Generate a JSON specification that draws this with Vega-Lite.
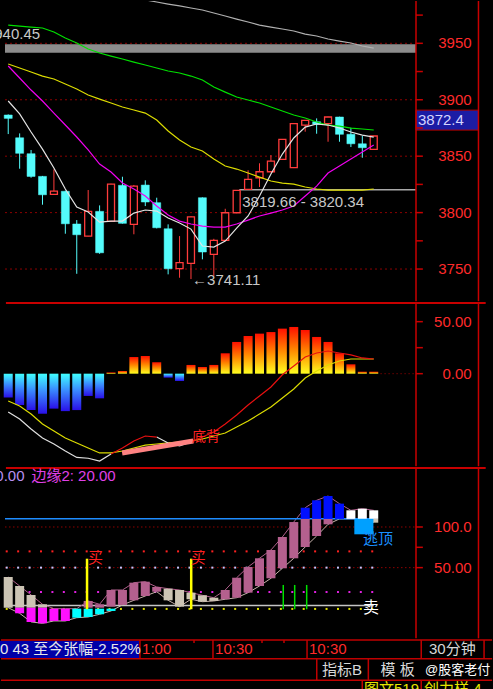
{
"$schema": "https://vega.github.io/schema/vega-lite/v6.json",
"background": "#000000",
"padding": 0,
"spacing": 0,
"bounds": "flush",
"config": {"view": {"stroke": null}, "text": {"font": "Liberation Sans, Noto Sans CJK SC", "fontSize": 15}},
"datasets": {
"cd": [
{"i":0,"o":3886.5,"h":3887,"l":3869.6,"c":3883.5,"d":"d","m5":3898.9,"m10":3929.9,"m20":3931.7,"m60":3966.2,"m120":null,"mh":-23,"dea":-26.3,"kt":38.5,"kl":0.7},
{"i":1,"o":3866.3,"h":3870.2,"l":3838.9,"c":3852.5,"d":"d","m5":3887.4,"m10":3919.3,"m20":3928.1,"m60":3965.3,"m120":null,"mh":-30,"dea":-31.1,"kt":27.4,"kl":-6.2},
{"i":2,"o":3852.2,"h":3855.5,"l":3830.9,"c":3832.1,"d":"d","m5":3871.4,"m10":3908.6,"m20":3924.6,"m60":3964.4,"m120":null,"mh":-35,"dea":-38.8,"kt":16.4,"kl":-16.8},
{"i":3,"o":3832.1,"h":3832.5,"l":3807.0,"c":3815.8,"d":"d","m5":3856.3,"m10":3898.9,"m20":3921.0,"m60":3963.6,"m120":null,"mh":-38.5,"dea":-48.3,"kt":4.9,"kl":-18.5},
{"i":4,"o":3816.2,"h":3838.3,"l":3816.0,"c":3819.1,"d":"u","m5":3839.5,"m10":3888.2,"m20":3918.4,"m60":3960.0,"m120":null,"mh":-33.6,"dea":-55.1,"kt":-0.5,"kl":-15.6},
{"i":5,"o":3818.9,"h":3819.5,"l":3781.3,"c":3790.1,"d":"d","m5":3820.9,"m10":3877.6,"m20":3913.9,"m60":3954.7,"m120":null,"mh":-36,"dea":-61.8,"kt":-0.5,"kl":-15.6},
{"i":6,"o":3789.9,"h":3793.4,"l":3745.8,"c":3780.4,"d":"d","m5":3804.9,"m10":3867.0,"m20":3909.5,"m60":3950.3,"m120":null,"mh":-35,"dea":-66.6,"kt":-0.5,"kl":-11.6},
{"i":7,"o":3779.2,"h":3820.0,"l":3779.0,"c":3801.1,"d":"u","m5":3800.5,"m10":3855.5,"m20":3904.2,"m60":3945.0,"m120":null,"mh":-21.4,"dea":-71.4,"kt":9.0,"kl":-10.7},
{"i":8,"o":3801.1,"h":3806.4,"l":3763.5,"c":3764.4,"d":"d","m5":3791.6,"m10":3843.0,"m20":3900.6,"m60":3941.4,"m120":null,"mh":-23.7,"dea":-76.2,"kt":4.9,"kl":-7.4},
{"i":9,"o":3792.3,"h":3825.6,"l":3792.0,"c":3825.3,"d":"u","m5":3792.5,"m10":3836.0,"m20":3897.1,"m60":3938.7,"m120":null,"mh":1.2,"dea":-76.2,"kt":22.5,"kl":-3.3},
{"i":10,"o":3824.2,"h":3831.8,"l":3790.3,"c":3790.5,"d":"d","m5":3792.5,"m10":3826.2,"m20":3893.6,"m60":3936.1,"m120":null,"mh":2.6,"dea":-74.3,"kt":22.5,"kl":4.1},
{"i":11,"o":3789.6,"h":3824.5,"l":3780.8,"c":3823.5,"d":"u","m5":3799.6,"m10":3820.9,"m20":3890.9,"m60":3933.4,"m120":null,"mh":16,"dea":-71.4,"kt":31.5,"kl":9.8},
{"i":12,"o":3824.4,"h":3828.6,"l":3805.8,"c":3809.4,"d":"d","m5":3802.3,"m10":3814.7,"m20":3888.2,"m60":3930.8,"m120":3988.5,"mh":17,"dea":-68.6,"kt":32.7,"kl":15.1},
{"i":13,"o":3808.8,"h":3813.2,"l":3786.0,"c":3786.6,"d":"d","m5":3801.4,"m10":3805.8,"m20":3882.0,"m60":3928.1,"m120":3986.6,"mh":11,"dea":-67.6,"kt":26.2,"kl":20.4},
{"i":14,"o":3785.7,"h":3789.6,"l":3745.3,"c":3750.3,"d":"d","m5":3795.2,"m10":3797.9,"m20":3872.3,"m60":3925.5,"m120":3984.8,"mh":-3.8,"dea":-66.6,"kt":24.1,"kl":9.8},
{"i":15,"o":3750.3,"h":3779.2,"l":3742.3,"c":3755.6,"d":"u","m5":3790.8,"m10":3792.5,"m20":3864.3,"m60":3923.7,"m120":3983.1,"mh":-7,"dea":-65.7,"kt":22.5,"kl":2.0},
{"i":16,"o":3755.1,"h":3796.8,"l":3741.11,"c":3796.3,"d":"u","m5":3785.4,"m10":3789.9,"m20":3858.1,"m60":3921.0,"m120":3981.3,"mh":8.4,"dea":-64.7,"kt":19.2,"kl":11.1},
{"i":17,"o":3813.2,"h":3813.5,"l":3758.6,"c":3765.1,"d":"d","m5":3770.4,"m10":3788.1,"m20":3854.6,"m60":3917.5,"m120":3979.5,"mh":6.4,"dea":-62.8,"kt":16.0,"kl":8.1},
{"i":18,"o":3763.0,"h":3776.8,"l":3743.8,"c":3775.4,"d":"u","m5":3769.5,"m10":3787.2,"m20":3847.5,"m60":3911.3,"m120":3976.9,"mh":8.4,"dea":-59.9,"kt":13.0,"kl":9.0},
{"i":19,"o":3775.4,"h":3803.4,"l":3775.0,"c":3799.9,"d":"u","m5":3774.8,"m10":3787.2,"m20":3841.3,"m60":3906.8,"m120":3974.2,"mh":19.6,"dea":-57,"kt":22.5,"kl":11.1},
{"i":20,"o":3799.9,"h":3820.0,"l":3799.5,"c":3819.7,"d":"u","m5":3786.3,"m10":3789.9,"m20":3838.6,"m60":3902.4,"m120":3971.5,"mh":30.5,"dea":-51.2,"kt":37.6,"kl":13.0},
{"i":21,"o":3820.6,"h":3837.5,"l":3820.3,"c":3829.5,"d":"u","m5":3797.0,"m10":3793.4,"m20":3835.1,"m60":3899.8,"m120":3968.9,"mh":36.2,"dea":-45.5,"kt":50.8,"kl":19.2},
{"i":22,"o":3830.9,"h":3843.7,"l":3822.7,"c":3836.2,"d":"u","m5":3814.7,"m10":3797.0,"m20":3831.5,"m60":3897.1,"m120":3966.2,"mh":38.5,"dea":-38.8,"kt":61.5,"kl":27.4},
{"i":23,"o":3836.2,"h":3851.0,"l":3836.0,"c":3845.7,"d":"u","m5":3834.2,"m10":3799.6,"m20":3828.0,"m60":3893.6,"m120":3964.4,"mh":40,"dea":-32,"kt":71.7,"kl":36.9},
{"i":24,"o":3847.2,"h":3865.2,"l":3847.0,"c":3864.9,"d":"u","m5":3851.9,"m10":3802.3,"m20":3826.2,"m60":3890.0,"m120":3962.7,"mh":43.3,"dea":-23.4,"kt":87.7,"kl":49.2},
{"i":25,"o":3839.8,"h":3879.0,"l":3839.5,"c":3878.8,"d":"u","m5":3866.1,"m10":3805.8,"m20":3825.3,"m60":3886.5,"m120":3960.9,"mh":44.9,"dea":-14.7,"kt":106.1,"kl":61.5},
{"i":26,"o":3877.6,"h":3882.0,"l":3871.7,"c":3881.8,"d":"u","m5":3875.8,"m10":3814.7,"m20":3822.7,"m60":3883.8,"m120":3958.2,"mh":42,"dea":-4.1,"kt":123.7,"kl":75.4},
{"i":27,"o":3880.5,"h":3883.5,"l":3869.9,"c":3878.2,"d":"d","m5":3878.5,"m10":3823.5,"m20":3820.9,"m60":3880.3,"m120":3956.5,"mh":35.3,"dea":2.6,"kt":132.8,"kl":88.9},
{"i":28,"o":3878.8,"h":3885.0,"l":3862.8,"c":3884.7,"d":"u","m5":3877.6,"m10":3835.1,"m20":3820.0,"m60":3877.6,"m120":3953.8,"mh":30.5,"dea":8.4,"kt":138.1,"kl":103.3},
{"i":29,"o":3884.7,"h":3885.0,"l":3862.8,"c":3869.4,"d":"d","m5":3875.0,"m10":3841.3,"m20":3820.0,"m60":3876.7,"m120":3952.0,"mh":19.6,"dea":12.2,"kt":128.7,"kl":110},
{"i":30,"o":3869.4,"h":3875.2,"l":3858.1,"c":3861.0,"d":"d","m5":3871.4,"m10":3847.5,"m20":3820.0,"m60":3874.9,"m120":3950.3,"mh":9,"dea":14.1,"kt":120.5,"kl":110},
{"i":31,"o":3861.0,"h":3867.9,"l":3848.6,"c":3857.5,"d":"d","m5":3868.7,"m10":3853.7,"m20":3820.0,"m60":3874.1,"m120":3947.6,"mh":1.9,"dea":14.1,"kt":122.5,"kl":110},
{"i":32,"o":3856.1,"h":3868.0,"l":3856.0,"c":3867.9,"d":"u","m5":3866.9,"m10":3859.9,"m20":3820.9,"m60":3873.2,"m120":3945.8,"mh":1.9,"dea":14.1,"kt":120.5,"kl":105.3}
],
"dif": [
{"i":0,"v":-36.8,"s":"w1"},{"i":1,"v":-43.6,"s":"w1"},{"i":2,"v":-53.2,"s":"w1"},{"i":3,"v":-61.8,"s":"w1"},{"i":4,"v":-67.6,"s":"w1"},{"i":5,"v":-74.3,"s":"w1"},{"i":6,"v":-80.5,"s":"w1"},{"i":7,"v":-81.3,"s":"w1"},{"i":8,"v":-84,"s":"w1"},{"i":9,"v":-77.2,"s":"w1"},
{"i":9,"v":-77.2,"s":"r1"},{"i":10,"v":-71.4,"s":"r1"},{"i":11,"v":-64.7,"s":"r1"},{"i":12,"v":-59.9,"s":"r1"},{"i":13,"v":-60.9,"s":"r1"},
{"i":13,"v":-60.9,"s":"w2"},{"i":14,"v":-66.6,"s":"w2"},{"i":15,"v":-69.5,"s":"w2"},{"i":16,"v":-65.7,"s":"w2"},
{"i":16,"v":-65.7,"s":"r2"},{"i":17,"v":-60.9,"s":"r2"},{"i":18,"v":-56.1,"s":"r2"},{"i":19,"v":-48.4,"s":"r2"},{"i":20,"v":-39.7,"s":"r2"},{"i":21,"v":-30.1,"s":"r2"},{"i":22,"v":-21.4,"s":"r2"},{"i":23,"v":-12.8,"s":"r2"},{"i":24,"v":-1,"s":"r2"},{"i":25,"v":7.4,"s":"r2"},{"i":26,"v":16.1,"s":"r2"},{"i":27,"v":19.9,"s":"r2"},{"i":28,"v":21.8,"s":"r2"},{"i":29,"v":19.9,"s":"r2"},{"i":30,"v":18,"s":"r2"},{"i":31,"v":15.1,"s":"r2"},{"i":32,"v":14.1,"s":"r2"}
],
"kb": [
{"i":0,"t":38.5,"b":0.7,"c":"beige"},
{"i":1,"t":27.4,"b":0.7,"c":"beige"},{"i":1,"t":0.7,"b":-6.2,"c":"mag"},
{"i":2,"t":16.4,"b":0.7,"c":"beige"},{"i":2,"t":0.7,"b":-16.8,"c":"mag"},
{"i":3,"t":4.9,"b":0.7,"c":"beige"},{"i":3,"t":0.7,"b":-18.5,"c":"mag"},
{"i":4,"t":-0.5,"b":-15.6,"c":"mag"},
{"i":5,"t":-0.5,"b":-15.6,"c":"mag"},
{"i":6,"t":-0.5,"b":-11.6,"c":"cyan"},
{"i":7,"t":9.0,"b":0.7,"c":"mauve"},{"i":7,"t":-0.5,"b":-10.7,"c":"cyan"},
{"i":8,"t":4.9,"b":0.7,"c":"mauve"},{"i":8,"t":-0.5,"b":-7.4,"c":"cyan"},
{"i":9,"t":22.5,"b":2.0,"c":"mauve"},{"i":9,"t":-0.5,"b":-3.3,"c":"cyan"},
{"i":10,"t":22.5,"b":4.1,"c":"mauve"},
{"i":11,"t":31.5,"b":9.8,"c":"mauve"},
{"i":12,"t":32.7,"b":15.1,"c":"mauve"},
{"i":13,"t":26.2,"b":20.4,"c":"mauve"},
{"i":14,"t":24.1,"b":9.8,"c":"beige"},
{"i":15,"t":22.5,"b":2.0,"c":"beige"},
{"i":16,"t":19.2,"b":11.1,"c":"beige"},
{"i":17,"t":16.0,"b":8.1,"c":"beige"},
{"i":18,"t":13.0,"b":9.0,"c":"beige"},
{"i":19,"t":22.5,"b":11.1,"c":"mauve"},
{"i":20,"t":37.6,"b":13.0,"c":"mauve"},
{"i":21,"t":50.8,"b":19.2,"c":"mauve"},
{"i":22,"t":61.5,"b":27.4,"c":"mauve"},
{"i":23,"t":71.7,"b":36.9,"c":"mauve"},
{"i":24,"t":87.7,"b":49.2,"c":"mauve"},
{"i":25,"t":106.1,"b":61.5,"c":"mauve"},
{"i":26,"t":123.7,"b":110,"c":"blue"},{"i":26,"t":110,"b":75.4,"c":"mauve"},
{"i":27,"t":132.8,"b":110,"c":"blue"},{"i":27,"t":110,"b":88.9,"c":"mauve"},
{"i":28,"t":138.1,"b":110,"c":"blue"},{"i":28,"t":110,"b":103.3,"c":"mauve"},
{"i":29,"t":128.7,"b":110,"c":"blue"},
{"i":30,"t":120.5,"b":110,"c":"white"},
{"i":31,"t":122.5,"b":110,"c":"white"},
{"i":32,"t":120.5,"b":110,"c":"white"},{"i":32,"t":110,"b":105.3,"c":"beige"}
]
},
"vconcat": [
{
"width": 421, "height": 301,
"layer": [
{"data": {"values": [{"x":-0.282,"x2":35.7,"y":3750},{"x":-0.282,"x2":35.7,"y":3800},{"x":-0.282,"x2":35.7,"y":3850},{"x":-0.282,"x2":35.7,"y":3900},{"x":-0.282,"x2":35.7,"y":3950}]},
 "mark": {"type": "rule", "color": "#8c0000", "strokeDash": [2,3], "strokeWidth": 1},
 "encoding": {
  "x": {"field": "x", "type": "quantitative", "scale": {"domain": [-0.282, 35.7], "nice": false, "zero": false}, "axis": null},
  "x2": {"field": "x2"},
  "y": {"field": "y", "type": "quantitative", "scale": {"domain": [3720.8, 3987.5], "nice": false, "zero": false}, "axis": null}}},
{"data": {"values": [{"x": -0.282, "x2": 35.7, "y": 3941.7, "y2": 3949.1}]},
 "mark": {"type": "rect", "fill": "#8c8c8c"},
 "encoding": {"x": {"field": "x", "type": "quantitative", "axis": null}, "x2": {"field": "x2"}, "y": {"field": "y", "type": "quantitative", "axis": null}, "y2": {"field": "y2"}}},
{"data": {"values": [{"x": 20.23, "x2": 35.7, "y": 3820.3}]},
 "mark": {"type": "rule", "color": "#a8a8a8", "strokeWidth": 1.5},
 "encoding": {"x": {"field": "x", "type": "quantitative", "axis": null}, "x2": {"field": "x2"}, "y": {"field": "y", "type": "quantitative", "axis": null}}},
{"data": {"name": "cd"}, "transform": [{"filter": "datum.d == 'u'"}],
 "mark": {"type": "rule", "strokeWidth": 1, "color": "#ff3c3c", "clip": true},
 "encoding": {"x": {"field": "i", "type": "quantitative", "axis": null}, "y": {"field": "l", "type": "quantitative", "axis": null}, "y2": {"field": "h"}}},
{"data": {"name": "cd"}, "transform": [{"filter": "datum.d == 'd'"}],
 "mark": {"type": "rule", "strokeWidth": 1, "color": "#54fcfc", "clip": true},
 "encoding": {"x": {"field": "i", "type": "quantitative", "axis": null}, "y": {"field": "l", "type": "quantitative", "axis": null}, "y2": {"field": "h"}}},
{"data": {"name": "cd"}, "transform": [{"filter": "datum.d == 'u'"}],
 "mark": {"type": "bar", "width": 7, "fill": "#000000", "stroke": "#ff3c3c", "strokeWidth": 1.3, "clip": true},
 "encoding": {"x": {"field": "i", "type": "quantitative", "axis": null}, "y": {"field": "o", "type": "quantitative", "axis": null}, "y2": {"field": "c"}}},
{"data": {"name": "cd"}, "transform": [{"filter": "datum.d == 'd'"}],
 "mark": {"type": "bar", "width": 8, "fill": "#54fcfc", "stroke": "#54fcfc", "strokeWidth": 0.5, "clip": true},
 "encoding": {"x": {"field": "i", "type": "quantitative", "axis": null}, "y": {"field": "o", "type": "quantitative", "axis": null}, "y2": {"field": "c"}}},
{"data": {"name": "cd"}, "mark": {"type": "line", "color": "#b0b0b0", "strokeWidth": 1.2, "clip": true},
 "encoding": {"x": {"field": "i", "type": "quantitative", "axis": null}, "y": {"field": "m120", "type": "quantitative", "axis": null}}},
{"data": {"name": "cd"}, "mark": {"type": "line", "color": "#00e000", "strokeWidth": 1.2, "clip": true},
 "encoding": {"x": {"field": "i", "type": "quantitative", "axis": null}, "y": {"field": "m60", "type": "quantitative", "axis": null}}},
{"data": {"name": "cd"}, "mark": {"type": "line", "color": "#dcdc00", "strokeWidth": 1.2, "clip": true},
 "encoding": {"x": {"field": "i", "type": "quantitative", "axis": null}, "y": {"field": "m20", "type": "quantitative", "axis": null}}},
{"data": {"name": "cd"}, "mark": {"type": "line", "color": "#f000f0", "strokeWidth": 1.2, "clip": true},
 "encoding": {"x": {"field": "i", "type": "quantitative", "axis": null}, "y": {"field": "m10", "type": "quantitative", "axis": null}}},
{"data": {"name": "cd"}, "mark": {"type": "line", "color": "#e4e4e4", "strokeWidth": 1.2, "clip": true},
 "encoding": {"x": {"field": "i", "type": "quantitative", "axis": null}, "y": {"field": "m5", "type": "quantitative", "axis": null}}},
{"data": {"values": [{"x": 2.795, "y": 3958.2, "t": "3940.45"}]},
 "mark": {"type": "text", "align": "right", "baseline": "middle", "color": "#c8c8c8", "fontSize": 15, "clip": true},
 "encoding": {"x": {"field": "x", "type": "quantitative", "axis": null}, "y": {"field": "y", "type": "quantitative", "axis": null}, "text": {"field": "t"}}},
{"data": {"values": [{"x": 20.49, "y": 3809.4, "t": "3819.66 - 3820.34"}, {"x": 16.1, "y": 3740.0, "t": "←3741.11"}]},
 "mark": {"type": "text", "align": "left", "baseline": "middle", "color": "#c8c8c8", "fontSize": 15},
 "encoding": {"x": {"field": "x", "type": "quantitative", "axis": null}, "y": {"field": "y", "type": "quantitative", "axis": null}, "text": {"field": "t"}}},
{"data": {"values": [{"x": 35.7, "x2": 41.17, "y": 3873.1, "y2": 3890.8}]},
 "mark": {"type": "rect", "fill": "#1c1ca4", "stroke": "#b00000", "strokeWidth": 1},
 "encoding": {"x": {"field": "x", "type": "quantitative", "axis": null}, "x2": {"field": "x2"}, "y": {"field": "y", "type": "quantitative", "axis": null}, "y2": {"field": "y2"}}},
{"data": {"values": [{"x": 35.87, "y": 3882, "t": "3872.4"}]},
 "mark": {"type": "text", "align": "left", "baseline": "middle", "color": "#d4d4ff", "fontSize": 15},
 "encoding": {"x": {"field": "x", "type": "quantitative", "axis": null}, "y": {"field": "y", "type": "quantitative", "axis": null}, "text": {"field": "t"}}},
{"data": {"values": [{"x": 35.7, "y": 3721.5, "y2": 3987.5}, {"x": 41.17, "y": 3721.5, "y2": 3987.5}]},
 "mark": {"type": "rule", "color": "#c80000", "strokeWidth": 1.5},
 "encoding": {"x": {"field": "x", "type": "quantitative", "axis": null}, "y": {"field": "y", "type": "quantitative", "axis": null}, "y2": {"field": "y2"}}},
{"data": {"values": [{"x":35.7,"x2":36.3,"y":3750},{"x":35.7,"x2":36.3,"y":3775},{"x":35.7,"x2":36.3,"y":3800},{"x":35.7,"x2":36.3,"y":3825},{"x":35.7,"x2":36.3,"y":3850},{"x":35.7,"x2":36.3,"y":3875},{"x":35.7,"x2":36.3,"y":3900},{"x":35.7,"x2":36.3,"y":3925},{"x":35.7,"x2":36.3,"y":3950},{"x":35.7,"x2":36.3,"y":3975}]},
 "mark": {"type": "rule", "color": "#c80000", "strokeWidth": 1.5},
 "encoding": {"x": {"field": "x", "type": "quantitative", "axis": null}, "x2": {"field": "x2"}, "y": {"field": "y", "type": "quantitative", "axis": null}}},
{"data": {"values": [{"x":40.57,"y":3750,"t":"3750"},{"x":40.57,"y":3800,"t":"3800"},{"x":40.57,"y":3850,"t":"3850"},{"x":40.57,"y":3900,"t":"3900"},{"x":40.57,"y":3950,"t":"3950"}]},
 "mark": {"type": "text", "align": "right", "baseline": "middle", "color": "#ff2a2a", "fontSize": 15},
 "encoding": {"x": {"field": "x", "type": "quantitative", "axis": null}, "y": {"field": "y", "type": "quantitative", "axis": null}, "text": {"field": "t"}}}
]
},
{
"width": 421, "height": 165,
"layer": [
{"data": {"values": [{"x": -0.2, "x2": 41.8, "y": 67.94}]},
 "mark": {"type": "rule", "color": "#c80000", "strokeWidth": 2},
 "encoding": {
  "x": {"field": "x", "type": "quantitative", "scale": {"domain": [-0.282, 35.7], "nice": false, "zero": false}, "axis": null},
  "x2": {"field": "x2"},
  "y": {"field": "y", "type": "quantitative", "scale": {"domain": [-89.7, 68.9], "nice": false, "zero": false}, "axis": null}}},
{"data": {"name": "cd"}, "transform": [{"filter": "datum.mh >= 0"}],
 "mark": {"type": "bar", "width": 9, "clip": true, "fill": {"gradient": "linear", "x1": 0, "y1": 0, "x2": 0, "y2": 1, "stops": [{"offset": 0, "color": "#ff1000"}, {"offset": 0.5, "color": "#ff8a00"}, {"offset": 1, "color": "#ffff20"}]}},
 "encoding": {"x": {"field": "i", "type": "quantitative", "axis": null}, "y": {"field": "mh", "type": "quantitative", "axis": null}, "y2": {"datum": 0}}},
{"data": {"name": "cd"}, "transform": [{"filter": "datum.mh < 0"}],
 "mark": {"type": "bar", "width": 9, "clip": true, "fill": {"gradient": "linear", "x1": 0, "y1": 0, "x2": 0, "y2": 1, "stops": [{"offset": 0, "color": "#40ffff"}, {"offset": 0.45, "color": "#3a8cff"}, {"offset": 1, "color": "#2a10e8"}]}},
 "encoding": {"x": {"field": "i", "type": "quantitative", "axis": null}, "y": {"field": "mh", "type": "quantitative", "axis": null}, "y2": {"datum": 0}}},
{"data": {"values": [{"x": 32.6, "x2": 35.7, "y": 0}]},
 "mark": {"type": "rule", "color": "#a00000", "strokeDash": [1,3], "strokeWidth": 1},
 "encoding": {"x": {"field": "x", "type": "quantitative", "axis": null}, "x2": {"field": "x2"}, "y": {"field": "y", "type": "quantitative", "axis": null}}},
{"data": {"name": "cd"}, "mark": {"type": "line", "color": "#dcdc00", "strokeWidth": 1.2, "clip": true},
 "encoding": {"x": {"field": "i", "type": "quantitative", "axis": null}, "y": {"field": "dea", "type": "quantitative", "axis": null}}},
{"data": {"name": "dif"}, "transform": [{"filter": "datum.s == 'w1' || datum.s == 'w2'"}],
 "mark": {"type": "line", "strokeWidth": 1.2, "color": "#e0e0e0", "clip": true},
 "encoding": {"x": {"field": "i", "type": "quantitative", "axis": null}, "y": {"field": "v", "type": "quantitative", "axis": null}, "detail": {"field": "s"}}},
{"data": {"name": "dif"}, "transform": [{"filter": "datum.s == 'r1' || datum.s == 'r2'"}],
 "mark": {"type": "line", "strokeWidth": 1.2, "color": "#e81010", "clip": true},
 "encoding": {"x": {"field": "i", "type": "quantitative", "axis": null}, "y": {"field": "v", "type": "quantitative", "axis": null}, "detail": {"field": "s"}}},
{"data": {"values": [{"i": 9.97, "v": -76.2}, {"i": 16.2, "v": -64.7}]},
 "mark": {"type": "line", "color": "#ff8282", "strokeWidth": 5},
 "encoding": {"x": {"field": "i", "type": "quantitative", "axis": null}, "y": {"field": "v", "type": "quantitative", "axis": null}}},
{"data": {"values": [{"x": 17.32, "y": -60.4, "t": "底背"}]},
 "mark": {"type": "text", "align": "center", "baseline": "middle", "color": "#ff2020", "fontSize": 14, "font": "Noto Sans CJK SC"},
 "encoding": {"x": {"field": "x", "type": "quantitative", "axis": null}, "y": {"field": "y", "type": "quantitative", "axis": null}, "text": {"field": "t"}}},
{"data": {"values": [{"x": 35.7, "y": -89.0, "y2": 68.9}, {"x": 41.17, "y": -89.0, "y2": 68.9}]},
 "mark": {"type": "rule", "color": "#c80000", "strokeWidth": 1.5},
 "encoding": {"x": {"field": "x", "type": "quantitative", "axis": null}, "y": {"field": "y", "type": "quantitative", "axis": null}, "y2": {"field": "y2"}}},
{"data": {"values": [{"x":35.7,"x2":36.3,"y":0},{"x":35.7,"x2":36.3,"y":25},{"x":35.7,"x2":36.3,"y":50}]},
 "mark": {"type": "rule", "color": "#c80000", "strokeWidth": 1.5},
 "encoding": {"x": {"field": "x", "type": "quantitative", "axis": null}, "x2": {"field": "x2"}, "y": {"field": "y", "type": "quantitative", "axis": null}}},
{"data": {"values": [{"x":40.57,"y":0,"t":"0.00"},{"x":40.57,"y":50,"t":"50.00"}]},
 "mark": {"type": "text", "align": "right", "baseline": "middle", "color": "#ff2a2a", "fontSize": 15},
 "encoding": {"x": {"field": "x", "type": "quantitative", "axis": null}, "y": {"field": "y", "type": "quantitative", "axis": null}, "text": {"field": "t"}}}
]
},
{
"width": 421, "height": 172,
"layer": [
{"data": {"values": [{"x": -0.2, "x2": 41.8, "y": 172.57}]},
 "mark": {"type": "rule", "color": "#c80000", "strokeWidth": 2},
 "encoding": {
  "x": {"field": "x", "type": "quantitative", "scale": {"domain": [-0.282, 35.7], "nice": false, "zero": false}, "axis": null},
  "x2": {"field": "x2"},
  "y": {"field": "y", "type": "quantitative", "scale": {"domain": [-37.8, 173.8], "nice": false, "zero": false}, "axis": null}}},
{"data": {"values": [{"x": -0.282, "x2": 35.7, "y": 100}, {"x": -0.282, "x2": 35.7, "y": 50}]},
 "mark": {"type": "rule", "color": "#8c0000", "strokeDash": [1.5,2.5], "strokeWidth": 1},
 "encoding": {"x": {"field": "x", "type": "quantitative", "axis": null}, "x2": {"field": "x2"}, "y": {"field": "y", "type": "quantitative", "axis": null}}},
{"data": {"values": [{"x": -0.282, "x2": 32.0, "y": 3.4}]},
 "mark": {"type": "rule", "color": "#c4c4c4", "strokeWidth": 1.5},
 "encoding": {"x": {"field": "x", "type": "quantitative", "axis": null}, "x2": {"field": "x2"}, "y": {"field": "y", "type": "quantitative", "axis": null}}},
{"data": {"name": "cd"}, "mark": {"type": "square", "size": 4, "color": "#ff2020", "opacity": 1, "xOffset": -1.5},
 "encoding": {"x": {"field": "i", "type": "quantitative", "axis": null}, "y": {"datum": 70, "type": "quantitative", "axis": null}}},
{"data": {"name": "cd"}, "mark": {"type": "square", "size": 4, "color": "#c8c8ff", "opacity": 1, "xOffset": -1.5},
 "encoding": {"x": {"field": "i", "type": "quantitative", "axis": null}, "y": {"datum": 50, "type": "quantitative", "axis": null}}},
{"data": {"name": "cd"}, "mark": {"type": "square", "size": 4, "color": "#e020e0", "opacity": 1, "xOffset": -1.5},
 "encoding": {"x": {"field": "i", "type": "quantitative", "axis": null}, "y": {"datum": 20, "type": "quantitative", "axis": null}}},
{"data": {"name": "cd"}, "mark": {"type": "square", "size": 4, "color": "#e0e000", "opacity": 1, "xOffset": -1.5},
 "encoding": {"x": {"field": "i", "type": "quantitative", "axis": null}, "y": {"datum": -0.8, "type": "quantitative", "axis": null}}},
{"data": {"name": "cd"}, "mark": {"type": "line", "color": "#b0608c", "strokeWidth": 1, "clip": true},
 "encoding": {"x": {"field": "i", "type": "quantitative", "axis": null}, "y": {"field": "kt", "type": "quantitative", "axis": null}}},
{"data": {"name": "cd"}, "mark": {"type": "line", "color": "#c8b4ac", "strokeWidth": 1, "clip": true},
 "encoding": {"x": {"field": "i", "type": "quantitative", "axis": null}, "y": {"field": "kl", "type": "quantitative", "axis": null}}},
{"data": {"values": [{"x": -0.282, "x2": 32.0, "y": 110}]},
 "mark": {"type": "rule", "color": "#1e8cff", "strokeWidth": 1.5},
 "encoding": {"x": {"field": "x", "type": "quantitative", "axis": null}, "x2": {"field": "x2"}, "y": {"field": "y", "type": "quantitative", "axis": null}}},
{"data": {"name": "kb"}, "transform": [{"filter": "datum.c == 'beige'"}], "mark": {"type": "bar", "width": 9, "color": "#ccc4b4", "clip": true},
 "encoding": {"x": {"field": "i", "type": "quantitative", "axis": null}, "y": {"field": "t", "type": "quantitative", "axis": null}, "y2": {"field": "b"}}},
{"data": {"name": "kb"}, "transform": [{"filter": "datum.c == 'mag'"}], "mark": {"type": "bar", "width": 9, "color": "#ff10ff", "clip": true},
 "encoding": {"x": {"field": "i", "type": "quantitative", "axis": null}, "y": {"field": "t", "type": "quantitative", "axis": null}, "y2": {"field": "b"}}},
{"data": {"name": "kb"}, "transform": [{"filter": "datum.c == 'cyan'"}], "mark": {"type": "bar", "width": 9, "color": "#00ffff", "clip": true},
 "encoding": {"x": {"field": "i", "type": "quantitative", "axis": null}, "y": {"field": "t", "type": "quantitative", "axis": null}, "y2": {"field": "b"}}},
{"data": {"name": "kb"}, "transform": [{"filter": "datum.c == 'mauve'"}], "mark": {"type": "bar", "width": 9, "color": "#b4608e", "clip": true},
 "encoding": {"x": {"field": "i", "type": "quantitative", "axis": null}, "y": {"field": "t", "type": "quantitative", "axis": null}, "y2": {"field": "b"}}},
{"data": {"name": "kb"}, "transform": [{"filter": "datum.c == 'blue'"}], "mark": {"type": "bar", "width": 9, "color": "#0010ff", "clip": true},
 "encoding": {"x": {"field": "i", "type": "quantitative", "axis": null}, "y": {"field": "t", "type": "quantitative", "axis": null}, "y2": {"field": "b"}}},
{"data": {"name": "kb"}, "transform": [{"filter": "datum.c == 'white'"}], "mark": {"type": "bar", "width": 9, "color": "#ffffff", "clip": true},
 "encoding": {"x": {"field": "i", "type": "quantitative", "axis": null}, "y": {"field": "t", "type": "quantitative", "axis": null}, "y2": {"field": "b"}}},
{"data": {"values": [{"x": 30.3, "x2": 31.97, "y": 91, "y2": 110}]},
 "mark": {"type": "rect", "fill": "#00a0ff"},
 "encoding": {"x": {"field": "x", "type": "quantitative", "axis": null}, "x2": {"field": "x2"}, "y": {"field": "y", "type": "quantitative", "axis": null}, "y2": {"field": "y2"}}},
{"data": {"values": [{"x": 6.9, "y": -1.2, "y2": 61}, {"x": 16.02, "y": -1.2, "y2": 61}]},
 "mark": {"type": "rule", "color": "#ffff00", "strokeWidth": 2.5},
 "encoding": {"x": {"field": "x", "type": "quantitative", "axis": null}, "y": {"field": "y", "type": "quantitative", "axis": null}, "y2": {"field": "y2"}}},
{"data": {"values": [{"x": 24.08, "y": -1.2, "y2": 28.7}, {"x": 25.08, "y": -1.2, "y2": 28.7}, {"x": 26.13, "y": -1.2, "y2": 28.7}]},
 "mark": {"type": "rule", "color": "#00e000", "strokeWidth": 1.5},
 "encoding": {"x": {"field": "x", "type": "quantitative", "axis": null}, "y": {"field": "y", "type": "quantitative", "axis": null}, "y2": {"field": "y2"}}},
{"data": {"values": [{"x": 7.64, "y": 61.3, "t": "买"}, {"x": 16.64, "y": 61.3, "t": "买"}]},
 "mark": {"type": "text", "align": "center", "baseline": "middle", "color": "#ff2020", "fontSize": 15, "font": "Noto Sans CJK SC"},
 "encoding": {"x": {"field": "x", "type": "quantitative", "axis": null}, "y": {"field": "y", "type": "quantitative", "axis": null}, "text": {"field": "t"}}},
{"data": {"values": [{"x": 31.77, "y": 0.4, "t": "卖"}]},
 "mark": {"type": "text", "align": "center", "baseline": "middle", "color": "#ffffff", "fontSize": 16, "font": "Noto Sans CJK SC"},
 "encoding": {"x": {"field": "x", "type": "quantitative", "axis": null}, "y": {"field": "y", "type": "quantitative", "axis": null}, "text": {"field": "t"}}},
{"data": {"values": [{"x": 32.37, "y": 85.2, "t": "逃顶"}]},
 "mark": {"type": "text", "align": "center", "baseline": "middle", "color": "#1a90ff", "fontSize": 15, "font": "Noto Sans CJK SC"},
 "encoding": {"x": {"field": "x", "type": "quantitative", "axis": null}, "y": {"field": "y", "type": "quantitative", "axis": null}, "text": {"field": "t"}}},
{"data": {"values": [{"x": 1.43, "y": 162.7, "t": "80.00"}]},
 "mark": {"type": "text", "align": "right", "baseline": "middle", "color": "#b890f0", "fontSize": 15, "clip": true},
 "encoding": {"x": {"field": "x", "type": "quantitative", "axis": null}, "y": {"field": "y", "type": "quantitative", "axis": null}, "text": {"field": "t"}}},
{"data": {"values": [{"x": 2.03, "y": 162.7, "t": "边缘2: 20.00"}]},
 "mark": {"type": "text", "align": "left", "baseline": "middle", "color": "#e040e8", "fontSize": 15},
 "encoding": {"x": {"field": "x", "type": "quantitative", "axis": null}, "y": {"field": "y", "type": "quantitative", "axis": null}, "text": {"field": "t"}}},
{"data": {"values": [{"x": 35.7, "y": -37.0, "y2": 173.8}, {"x": 41.17, "y": -37.0, "y2": 173.8}]},
 "mark": {"type": "rule", "color": "#c80000", "strokeWidth": 1.5},
 "encoding": {"x": {"field": "x", "type": "quantitative", "axis": null}, "y": {"field": "y", "type": "quantitative", "axis": null}, "y2": {"field": "y2"}}},
{"data": {"values": [{"x":35.7,"x2":36.3,"y":50},{"x":35.7,"x2":36.3,"y":75},{"x":35.7,"x2":36.3,"y":100}]},
 "mark": {"type": "rule", "color": "#c80000", "strokeWidth": 1.5},
 "encoding": {"x": {"field": "x", "type": "quantitative", "axis": null}, "x2": {"field": "x2"}, "y": {"field": "y", "type": "quantitative", "axis": null}}},
{"data": {"values": [{"x":40.57,"y":50,"t":"50.00"},{"x":40.57,"y":100,"t":"100.0"}]},
 "mark": {"type": "text", "align": "right", "baseline": "middle", "color": "#ff2a2a", "fontSize": 15},
 "encoding": {"x": {"field": "x", "type": "quantitative", "axis": null}, "y": {"field": "y", "type": "quantitative", "axis": null}, "text": {"field": "t"}}}
]
},
{
"width": 421, "height": 51,
"layer": [
{"data": {"values": [{"x": 41.2, "x2": 41.855, "y": 0, "y2": 51}]},
 "mark": {"type": "rect", "fill": "#000000"},
 "encoding": {
  "x": {"field": "x", "type": "quantitative", "scale": {"domain": [-0.282, 35.7], "nice": false, "zero": false}, "axis": null},
  "x2": {"field": "x2"},
  "y": {"field": "y", "type": "quantitative", "scale": {"domain": [0, 51], "nice": false, "zero": false, "reverse": true}, "axis": null},
  "y2": {"field": "y2"}}},
{"data": {"values": [{"x": -0.282, "x2": 11.6, "y": 1.8, "y2": 19}]},
 "mark": {"type": "rect", "fill": "#0000a8"},
 "encoding": {"x": {"field": "x", "type": "quantitative", "axis": null}, "x2": {"field": "x2"}, "y": {"field": "y", "type": "quantitative", "axis": null}, "y2": {"field": "y2"}}},
{"data": {"values": [{"x": -0.2, "x2": 41.78, "y": 1}, {"x": -0.2, "x2": 41.78, "y": 19.7}, {"x": -0.2, "x2": 41.78, "y": 41.3}]},
 "mark": {"type": "rule", "color": "#c00000", "strokeWidth": 1.5},
 "encoding": {"x": {"field": "x", "type": "quantitative", "axis": null}, "x2": {"field": "x2"}, "y": {"field": "y", "type": "quantitative", "axis": null}}},
{"data": {"values": [
  {"x": 11.68, "y": 1, "y2": 19.7}, {"x": 17.92, "y": 1, "y2": 19.7}, {"x": 25.96, "y": 1, "y2": 19.7}, {"x": 35.72, "y": 1, "y2": 19.7}, {"x": 41.09, "y": 1, "y2": 19.7},
  {"x": 16.3, "y": 1, "y2": 4}, {"x": 22.11, "y": 1, "y2": 4}, {"x": 23.99, "y": 1, "y2": 4},
  {"x": 26.79, "y": 19.7, "y2": 41.3}, {"x": 31.2, "y": 19.7, "y2": 41.3},
  {"x": 30.68, "y": 41.3, "y2": 51}, {"x": 35.72, "y": 41.3, "y2": 51}]},
 "mark": {"type": "rule", "color": "#c00000", "strokeWidth": 1.5},
 "encoding": {"x": {"field": "x", "type": "quantitative", "axis": null}, "y": {"field": "y", "type": "quantitative", "axis": null}, "y2": {"field": "y2"}}},
{"data": {"values": [{"x": -0.282, "y": 10.3, "t": "0 43 至今张幅-2.52%"}]},
 "mark": {"type": "text", "align": "left", "baseline": "middle", "color": "#e8e8e8", "fontSize": 15},
 "encoding": {"x": {"field": "x", "type": "quantitative", "axis": null}, "y": {"field": "y", "type": "quantitative", "axis": null}, "text": {"field": "t"}}},
{"data": {"values": [{"x": 11.86, "y": 10.3, "t": "1:00"}, {"x": 18.1, "y": 10.3, "t": "10:30"}, {"x": 26.13, "y": 10.3, "t": "10:30"}]},
 "mark": {"type": "text", "align": "left", "baseline": "middle", "color": "#ff2a2a", "fontSize": 15},
 "encoding": {"x": {"field": "x", "type": "quantitative", "axis": null}, "y": {"field": "y", "type": "quantitative", "axis": null}, "text": {"field": "t"}}},
{"data": {"values": [{"x": 38.38, "y": 10.3, "t": "30分钟"}, {"x": 28.95, "y": 30.5, "t": "指标B"}, {"x": 33.7, "y": 30.5, "t": "模 板"}]},
 "mark": {"type": "text", "align": "center", "baseline": "middle", "color": "#d8d8d8", "fontSize": 15},
 "encoding": {"x": {"field": "x", "type": "quantitative", "axis": null}, "y": {"field": "y", "type": "quantitative", "axis": null}, "text": {"field": "t"}}},
{"data": {"values": [{"x": 36.04, "y": 31, "t": "@股客老付"}]},
 "mark": {"type": "text", "align": "left", "baseline": "middle", "color": "#ffffff", "fontSize": 13},
 "encoding": {"x": {"field": "x", "type": "quantitative", "axis": null}, "y": {"field": "y", "type": "quantitative", "axis": null}, "text": {"field": "t"}}},
{"data": {"values": [{"x": 30.83, "y": 43, "t": "图文519"}, {"x": 35.96, "y": 43, "t": "创力样 4"}]},
 "mark": {"type": "text", "align": "left", "baseline": "top", "color": "#e6e600", "fontSize": 15},
 "encoding": {"x": {"field": "x", "type": "quantitative", "axis": null}, "y": {"field": "y", "type": "quantitative", "axis": null}, "text": {"field": "t"}}}
]
}
]
}
